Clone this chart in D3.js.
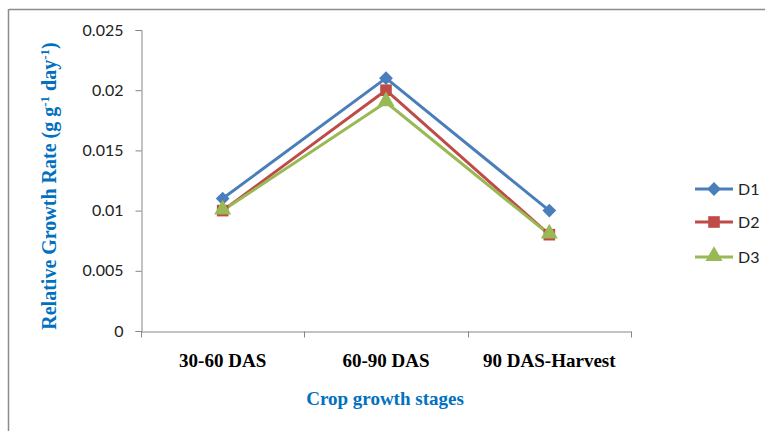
<!DOCTYPE html>
<html><head><meta charset="utf-8">
<script src="https://cdn.jsdelivr.net/npm/d3@7/dist/d3.min.js"></script>
<style>body{margin:0;background:#fff;}svg{display:block;}</style>
</head><body>
<svg id="c" width="765" height="431"></svg>
<script>
const categories = ["30-60 DAS", "60-90 DAS", "90 DAS-Harvest"];
const seriesNames = ["D1", "D2", "D3"];
const D1 = [0.011, 0.021, 0.010];
const D2 = [0.010, 0.020, 0.008];
const D3 = [0.010, 0.019, 0.008];
const yTicks = [0, 0.005, 0.01, 0.015, 0.02, 0.025];
const yTickLabels = ["0", "0.005", "0.01", "0.015", "0.02", "0.025"];
const colors = ["#4A7EBB", "#BE4B48", "#98B954"];

const squareDiamond = { draw(ctx, size){ const r = Math.sqrt(size/2); ctx.moveTo(0,-r); ctx.lineTo(r,0); ctx.lineTo(0,r); ctx.lineTo(-r,0); ctx.closePath(); } };
const symbols = [squareDiamond, d3.symbolSquare, d3.symbolTriangle];
const symSizes = [95, 135, 125];

const svg = d3.select("#c");
svg.append("line").attr("x1",9).attr("y1",9.5).attr("x2",765).attr("y2",9.5).attr("stroke","#8c8c8c").attr("stroke-width",1.5);
svg.append("line").attr("x1",8.5).attr("y1",9).attr("x2",8.5).attr("y2",431).attr("stroke","#8c8c8c").attr("stroke-width",1.5);

const x0 = 141, x1 = 631, yTop = 30, yBot = 331;
const x = d3.scaleBand().domain(categories).range([x0, x1]);
const y = d3.scaleLinear().domain([0, 0.025]).range([yBot, yTop]);

const yAxis = d3.axisLeft(y).tickValues(yTicks).tickFormat((d,i)=>yTickLabels[i]).tickSize(6).tickPadding(12);
const gy = svg.append("g").attr("transform",`translate(${x0+0.5},0)`).call(yAxis);
gy.select(".domain").attr("stroke","#868686");
gy.selectAll(".tick line").attr("stroke","#868686");
gy.selectAll(".tick text").attr("fill","#222").style("font-family","Lato, 'Open Sans', sans-serif").style("font-size","16px");

const xAxis = d3.axisBottom(x).tickSize(0).tickPadding(22);
const gx = svg.append("g").attr("transform",`translate(0,${yBot+0.5})`).call(xAxis);
gx.select(".domain").attr("stroke","#868686");
gx.selectAll(".tick text").attr("fill","#000").style("font-family","'Liberation Serif', 'Times New Roman', serif").style("font-weight","bold").style("font-size","19px");
const bounds = categories.map(c=>x(c)).concat([x1]);
gx.selectAll(".btick").data(bounds).enter().append("line")
  .attr("x1",d=>Math.round(d)+0.5).attr("x2",d=>Math.round(d)+0.5).attr("y1",0).attr("y2",6).attr("stroke","#868686");

const allSeries = [D1, D2, D3];
const line = d3.line().x((d,i)=>x(categories[i]) + x.bandwidth()/2).y(d=>y(d));
allSeries.forEach((s,k)=>{
  svg.append("path").datum(s).attr("d",line).attr("fill","none").attr("stroke",colors[k]).attr("stroke-width",3).attr("stroke-linejoin","round");
});
allSeries.forEach((s,k)=>{
  svg.selectAll(".m"+k).data(s).enter().append("path")
    .attr("d", d3.symbol().type(symbols[k]).size(symSizes[k]))
    .attr("transform",(d,i)=>`translate(${x(categories[i]) + x.bandwidth()/2},${y(d) + (k===2?-1:0)})`)
    .attr("fill",colors[k]);
});

const legY = [189, 222, 257];
seriesNames.forEach((n,k)=>{
  const g = svg.append("g").attr("transform",`translate(0,${legY[k]})`);
  g.append("line").attr("x1",695).attr("x2",733).attr("y1",0).attr("y2",0).attr("stroke",colors[k]).attr("stroke-width",3);
  g.append("path").attr("d",d3.symbol().type(symbols[k]).size(symSizes[k])).attr("transform",`translate(714,${k===2?-1:0})`).attr("fill",colors[k]);
  g.append("text").attr("x",738).attr("y",6).text(n).attr("fill","#222").style("font-family","Lato, 'Open Sans', sans-serif").style("font-size","16px");
});

svg.append("text").attr("x",385).attr("y",405).attr("text-anchor","middle").text("Crop growth stages")
  .attr("fill","#0070C0").style("font-family","'Liberation Serif', 'Times New Roman', serif").style("font-weight","bold").style("font-size","19px");

const yt = svg.append("text").attr("transform","translate(56,186) rotate(-90)").attr("text-anchor","middle")
  .attr("fill","#0070C0").style("font-family","'Liberation Serif', 'Times New Roman', serif").style("font-weight","bold").style("font-size","20px");
yt.append("tspan").text("Relative Growth Rate (g g");
yt.append("tspan").text("-1").attr("dy",-7).style("font-size","13px");
yt.append("tspan").text(" day").attr("dy",7);
yt.append("tspan").text("-1").attr("dy",-7).style("font-size","13px");
yt.append("tspan").text(")").attr("dy",7);
</script>
</body></html>
